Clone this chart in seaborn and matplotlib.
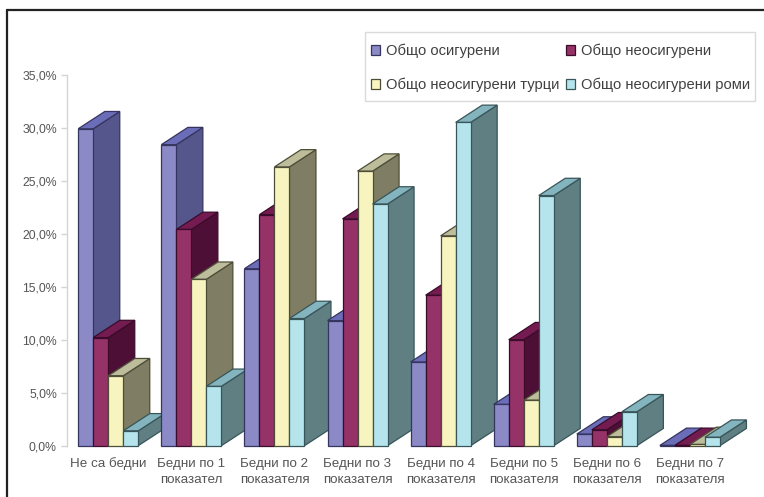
import matplotlib
matplotlib.use("Agg")
import matplotlib.pyplot as plt
from matplotlib.lines import Line2D
from matplotlib.patches import Patch, Polygon, Rectangle
import pandas as pd
import seaborn as sns

categories = [
    "Не са бедни", "Бедни по 1\nпоказател", "Бедни по 2\nпоказателя", "Бедни по 3\nпоказателя",
    "Бедни по 4\nпоказателя", "Бедни по 5\nпоказателя", "Бедни по 6\nпоказателя", "Бедни по 7\nпоказателя",
]
insured = [29.9, 28.4, 16.7, 11.8, 7.9, 3.9, 1.1, 0.03]
uninsured = [10.2, 20.4, 21.8, 21.4, 14.2, 10.0, 1.5, 0.03]
uninsured_turks = [6.6, 15.7, 26.3, 25.9, 19.8, 4.3, 0.85, 0.12]
uninsured_roma = [1.4, 5.6, 12.0, 22.8, 30.5, 23.6, 3.2, 0.8]
series_names = ["Общо осигурени", "Общо неосигурени", "Общо неосигурени турци", "Общо неосигурени роми"]
y_ticks = [0, 5, 10, 15, 20, 25, 30, 35]

front_colors = ["#8B89C6", "#953268", "#F7F4C0", "#B6E4EC"]
side_colors = ["#55568C", "#4E0F37", "#7F7D63", "#5F7F82"]
top_colors = ["#6B6DB8", "#741B52", "#BDBC9B", "#84B5BE"]
edge_colors = ["#35355F", "#3A0C2A", "#4E4E38", "#38555A"]

FONT = "Liberation Sans"
TEXT_GREY = "#555555"
DEPTH_X = 0.319   # oblique depth of each bar, in category units
DEPTH_Y = 1.63    # oblique rise of each bar, in percentage points

table = pd.DataFrame({
    "category": categories * 4,
    "series": [name for name in series_names for _ in categories],
    "value": insured + uninsured + uninsured_turks + uninsured_roma,
})

sns.set_style("white")
plt.rcParams["font.family"] = [FONT, "DejaVu Sans"]

fig = plt.figure(figsize=(7.64, 4.97), dpi=100, facecolor="white")
W, H = 764, 497
ax = fig.add_axes([66.7 / W, 1 - 445.7 / H, (731.5 - 66.7) / W, 371 / H])

sns.barplot(data=table, x="category", y="value", hue="series", order=categories,
            hue_order=series_names, palette=front_colors, saturation=1, width=0.722,
            legend=False, ax=ax)

# Extrude every bar into an oblique box, painting left to right so nearer bars overlap.
for s, container in enumerate(ax.containers):
    for c, bar in enumerate(container.patches):
        x0, w, h = bar.get_x(), bar.get_width(), bar.get_height()
        x1 = x0 + w
        z = 3 + c * 10 + s
        side = [(x1, 0), (x1 + DEPTH_X, DEPTH_Y), (x1 + DEPTH_X, h + DEPTH_Y), (x1, h)]
        top = [(x0, h), (x0 + DEPTH_X, h + DEPTH_Y), (x1 + DEPTH_X, h + DEPTH_Y), (x1, h)]
        for pts, col in ((side, side_colors[s]), (top, top_colors[s])):
            ax.add_patch(Polygon(pts, closed=True, facecolor=col, edgecolor=edge_colors[s],
                                 linewidth=0.9, zorder=z, clip_on=False))
        bar.set_edgecolor(edge_colors[s])
        bar.set_linewidth(0.9)
        bar.set_zorder(z + 0.5)
        bar.set_clip_on(False)

ax.set_xlim(-0.5, 7.5)
ax.set_ylim(0, 35)
ax.set_yticks(y_ticks)
ax.set_yticklabels([f"{v:.1f}%".replace(".", ",") for v in y_ticks])
ax.set_xlabel("")
ax.set_ylabel("")
ax.patch.set_alpha(0)
for name in ("top", "right", "bottom"):
    ax.spines[name].set_visible(False)
ax.spines["left"].set_color("#D4D4D4")
ax.spines["left"].set_linewidth(1.0)
ax.tick_params(axis="y", which="major", left=True, length=4, width=1, color="#D4D4D4",
               labelsize=8.8, labelcolor=TEXT_GREY, pad=3)
ax.tick_params(axis="x", bottom=False, labelsize=9.6, labelcolor=TEXT_GREY, pad=5)
for label in ax.get_xticklabels():
    label.set_linespacing(1.5)

# Legend panel with its own fixed box, entries placed inside it.
fig.add_artist(Rectangle((365 / W, 1 - 100.5 / H), 390 / W, 68.5 / H, transform=fig.transFigure,
                         facecolor="white", edgecolor="#DADADA", linewidth=1.0, zorder=190))
handles = [Patch(facecolor=front_colors[i], edgecolor=edge_colors[i], linewidth=0.9, label=series_names[i])
           for i in (0, 2, 1, 3)]
legend = fig.legend(handles=handles, ncol=2, loc="upper left",
                    bbox_to_anchor=(371 / W, 1 - 43.5 / H), bbox_transform=fig.transFigure,
                    prop={"family": FONT, "size": 10.6}, labelcolor="#404040",
                    frameon=False, handlelength=0.62, handleheight=0.62, handletextpad=0.4,
                    labelspacing=1.35, columnspacing=0.42, borderpad=0, borderaxespad=0)
legend.set_zorder(200)

# Dark frame along the top and left of the canvas.
fig.add_artist(Line2D([7 / W, 7 / W], [0, 1 - 10 / H], color="#222222", linewidth=1.6, transform=fig.transFigure))
fig.add_artist(Line2D([7 / W, 1], [1 - 10 / H, 1 - 10 / H], color="#222222", linewidth=1.6, transform=fig.transFigure))

fig.savefig("out.png", dpi=100)
